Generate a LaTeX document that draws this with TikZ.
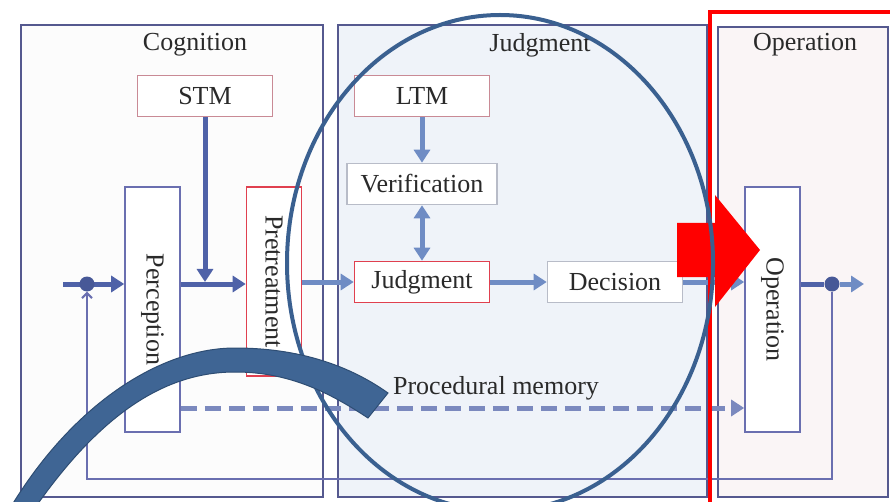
\documentclass[tikz,border=0pt]{standalone}
\usepackage{fontspec}
\setmainfont{Liberation Serif}
\usepackage{xcolor}
\usetikzlibrary{arrows.meta, positioning, calc}

\definecolor{panelline}{HTML}{55598F}
\definecolor{blueline}{HTML}{6A6FB0}
\definecolor{redline}{HTML}{E0404F}
\definecolor{memline}{HTML}{C98A95}
\definecolor{greyline}{HTML}{B8BCC8}
\definecolor{flowdark}{HTML}{4F62A8}
\definecolor{flowlight}{HTML}{6F8CC4}
\definecolor{ringblue}{HTML}{3A6090}
\definecolor{bandblue}{HTML}{3F6594}
\definecolor{judgfill}{HTML}{EFF3F9}
\definecolor{opfill}{HTML}{FAF5F6}
\definecolor{textgrey}{HTML}{2A2A2A}

\begin{document}
\begin{tikzpicture}[x=1pt, y=-1pt, font=\fontsize{26}{30}\selectfont, text=textgrey,
    >={Triangle[length=13pt, width=16pt]}]
  \tikzstyle{panel} = [draw=panelline, line width=1.6pt]
  \tikzstyle{box} = [draw, line width=1.6pt, minimum width=135pt, minimum height=41pt, inner sep=0pt, fill=white]
  \tikzstyle{tallbox} = [draw, line width=1.6pt, minimum width=55pt, inner sep=0pt, fill=white]
  \tikzstyle{flow} = [draw=flowdark, line width=5pt]
  \tikzstyle{lflow} = [draw=flowlight, line width=5pt]
  \tikzstyle{dot} = [circle, fill=flowdark!90!black, minimum size=15pt, inner sep=0pt]

  \useasboundingbox (0,0) rectangle (890,502);
  \clip (0,0) rectangle (890,502);
  \fill[white] (0,0) rectangle (890,502);

  % stages
  \filldraw[panel, fill=black!1] (21,25) rectangle (323,497);
  \filldraw[panel, fill=judgfill] (338,25) rectangle (707,497);
  \filldraw[panel, fill=opfill] (718,27) rectangle (888,497);
  \node (cogt) at (195,45) {Cognition};
  \node (judt) at (540,45) {Judgment};
  \node (opt) at (805,45) {Operation};

  % boxes
  \node[box, draw=memline] (stm) at (205,96) {STM};
  \node[box, draw=memline] (ltm) at (422,96) {LTM};
  \node[box, draw=greyline, minimum width=150pt] (verif) at (422,184) {Verification};
  \node[box, draw=redline] (judg) at (422,282) {Judgment};
  \node[box, draw=greyline] (dec) at (615,282) {Decision};
  \node[tallbox, draw=blueline, minimum height=245pt,
        label={[rotate=-90]center:Perception}] (perc) at (152.5,309.5) {};
  \node[tallbox, draw=redline, minimum height=189pt,
        label={[rotate=-90]center:Pretreatment}] (pre) at (274,281.5) {};
  \node[tallbox, draw=blueline, minimum height=245pt,
        label={[rotate=-90]center:Operation}] (op) at (772.5,309.5) {};

  \coordinate (in) at (63,284);
  \coordinate (out) at (864,284);
  \coordinate (pm) at (0,408);
  \coordinate (fb) at (0,479);

  % main flow
  \draw[flow, ->] (in) -- (perc.west |- in);
  \draw[flow, ->] (perc.east |- in) -- (pre.west |- in);
  \draw[flow, ->] (stm.south) -- ($(stm.south |- in)+(0,-2)$);
  \draw[lflow, ->] (pre.east |- judg) -- (judg.west);
  \draw[lflow, ->] (ltm) -- (verif);
  \draw[lflow, <->] (verif) -- (judg);
  \draw[lflow, ->] (judg) -- (dec);
  \draw[lflow, ->] (dec) -- (op.west |- dec);
  \node[dot] (jin) at (87,284) {};
  \node[dot] (jout) at (832,284) {};
  \draw[flow] (op.east |- in) -- (jout);
  \draw[lflow, ->] (jout) -- (out);

  % feedback
  \draw[draw=blueline, line width=2pt, -{Straight Barb[length=5pt, width=10pt]}]
    (jout) -- (jout |- fb) -| (jin.south);

  % procedural memory
  \draw[flow, draw=flowdark!75, dash pattern=on 16pt off 8pt, ->]
    (perc.east |- pm) -- (op.west |- pm);
  \node (pmt) at (496,388) {Procedural memory};

  % highlights
  \draw[red, line width=4pt] (710,12) rectangle (900,520);
  \fill[red] (677,223) -- (715,223) -- (715,195) -- (760,250)
    -- (715,307) -- (715,277) -- (677,277) -- cycle;
  \draw[ringblue, line width=4pt] (500,263) ellipse [x radius=213pt, y radius=248pt];
  \filldraw[fill=bandblue, draw=ringblue!80!black, line width=1pt]
    (6,515) .. controls (70,405) and (160,348) .. (235,348)
    .. controls (300,348) and (350,366) .. (388,393)
    -- (368,418) .. controls (330,393) and (290,372) .. (235,372)
    .. controls (160,372) and (95,420) .. (30,515) -- cycle;
\end{tikzpicture}
\end{document}
